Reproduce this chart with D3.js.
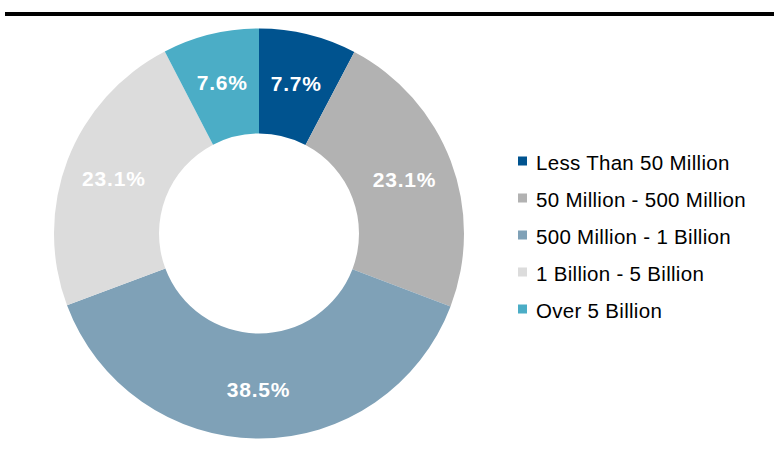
<!DOCTYPE html>
<html>
<head>
<meta charset="utf-8">
<script src="https://cdn.jsdelivr.net/npm/d3@7/dist/d3.min.js"></script>
<style>
  html, body { margin: 0; padding: 0; background: #fff; }
  svg { display: block; }
</style>
</head>
<body>
<svg id="chart" width="774" height="455"></svg>
<script>
const categories = ["Less Than 50 Million", "50 Million - 500 Million", "500 Million - 1 Billion", "1 Billion - 5 Billion", "Over 5 Billion"];
const values = [7.7, 23.1, 38.5, 23.1, 7.6];
const labels = ["7.7%", "23.1%", "38.5%", "23.1%", "7.6%"];
const colors = ["#00538F", "#B2B2B2", "#7FA1B7", "#DCDCDC", "#4BADC6"];

const svg = d3.select("#chart");
const font = "'Liberation Sans', Arial, sans-serif";

// top rule
svg.append("rect").attr("x", 5).attr("y", 12).attr("width", 769).attr("height", 4).attr("fill", "#000");

const cx = 259, cy = 233.5, outerR = 205, innerR = 100;
const data = categories.map((c, i) => ({ cat: c, value: values[i], label: labels[i], color: colors[i] }));

const pie = d3.pie().value(d => d.value).sort(null);
const arc = d3.arc().innerRadius(innerR).outerRadius(outerR);
const labelArc = d3.arc().innerRadius((innerR + outerR) / 2 + 3).outerRadius((innerR + outerR) / 2 + 3);

const g = svg.append("g").attr("transform", `translate(${cx},${cy})`);
const arcs = pie(data);
g.selectAll("path").data(arcs).join("path")
  .attr("d", arc)
  .attr("fill", d => d.data.color);

g.selectAll("text").data(arcs).join("text")
  .attr("transform", d => `translate(${labelArc.centroid(d)})`)
  .attr("text-anchor", "middle")
  .attr("dy", "0.38em")
  .attr("fill", "#fff")
  .attr("font-family", font)
  .attr("font-weight", "bold")
  .attr("font-size", "21px")
  .attr("letter-spacing", "0.8px")
  .text(d => d.data.label);

// legend
const legendY = d3.scalePoint().domain(categories).range([161, 309]);
const lg = svg.append("g");
const rows = lg.selectAll("g").data(data).join("g")
  .attr("transform", d => `translate(518,${legendY(d.cat)})`);
rows.append("rect").attr("x", 0).attr("y", -4.5).attr("width", 9).attr("height", 9).attr("fill", d => d.color);
rows.append("text")
  .attr("x", 18).attr("y", 8.5)
  .attr("font-family", font)
  .attr("font-size", "20.5px")
  .attr("letter-spacing", "0.3px")
  .attr("fill", "#000")
  .text(d => d.cat);
</script>
</body>
</html>
